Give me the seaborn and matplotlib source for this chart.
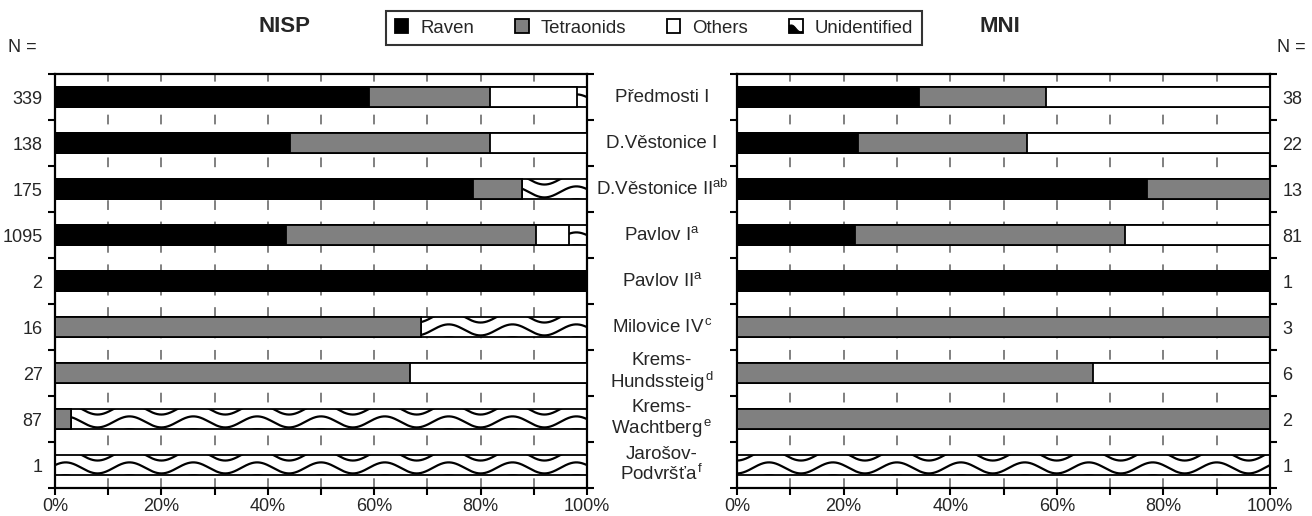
import numpy as np
import matplotlib
matplotlib.use("Agg")
import matplotlib.pyplot as plt
import matplotlib.transforms as mtransforms
from matplotlib.patches import Patch, Rectangle, Polygon
from matplotlib.legend_handler import HandlerBase
import seaborn as sns

# ---------------- data ----------------
sites = ["Předmosti I", "D.Věstonice I", "D.Věstonice II", "Pavlov I", "Pavlov II",
         "Milovice IV", "Krems-Hundssteig", "Krems-Wachtberg", "Jarošov-Podvršťa"]
site_labels = ["Předmosti I", "D.Věstonice I", "D.Věstonice II$^{\\mathrm{ab}}$",
               "Pavlov I$^{\\mathrm{a}}$", "Pavlov II$^{\\mathrm{a}}$",
               "Milovice IV$^{\\,\\mathrm{c}}$", "Krems-\nHundssteig$^{\\,\\mathrm{d}}$",
               "Krems-\nWachtberg$^{\\,\\mathrm{e}}$", "Jarošov-\nPodvršťa$^{\\,\\mathrm{f}}$"]

nisp_n = ["339", "138", "175", "1095", "2", "16", "27", "87", "1"]
nisp_raven = [59.0, 44.2, 78.6, 43.5, 100.0, 0.0, 0.0, 0.0, 0.0]
nisp_tetra = [22.8, 37.6, 9.1, 46.9, 0.0, 68.8, 66.7, 3.1, 0.0]
nisp_others = [16.4, 18.2, 0.0, 6.3, 0.0, 0.0, 33.3, 0.0, 0.0]
nisp_unid = [1.8, 0.0, 12.3, 3.3, 0.0, 31.2, 0.0, 96.9, 100.0]

mni_n = ["38", "22", "13", "81", "1", "3", "6", "2", "1"]
mni_raven = [34.2, 22.7, 76.9, 22.2, 100.0, 0.0, 0.0, 0.0, 0.0]
mni_tetra = [23.7, 31.8, 23.1, 50.6, 0.0, 100.0, 66.7, 100.0, 0.0]
mni_others = [42.1, 45.5, 0.0, 27.2, 0.0, 0.0, 33.3, 0.0, 0.0]
mni_unid = [0.0, 0.0, 0.0, 0.0, 0.0, 0.0, 0.0, 0.0, 100.0]

series_names = ["Raven", "Tetraonids", "Others", "Unidentified"]
series_colors = ["#000000", "#808080", "#ffffff", "#ffffff"]
x_ticks = [0, 20, 40, 60, 80, 100]
x_tick_labels = ["0%", "20%", "40%", "60%", "80%", "100%"]

# ---------------- style ----------------
sns.set_theme(style="white")
plt.rcParams["font.family"] = ["Liberation Sans", "DejaVu Sans"]
plt.rcParams["mathtext.fontset"] = "custom"
plt.rcParams["mathtext.rm"] = "Liberation Sans"
plt.rcParams["mathtext.it"] = "Liberation Sans:italic"
plt.rcParams["mathtext.bf"] = "Liberation Sans:bold"

FS = 13
BAR_W = 0.42
EDGE_LW = 1.3

fig = plt.figure(figsize=(13.12, 5.16), dpi=100)
axL = fig.add_axes([55 / 1312, 28 / 516, 532 / 1312, 414 / 516])
axR = fig.add_axes([737 / 1312, 28 / 516, 533 / 1312, 414 / 516])


def draw_waves(ax, patch, yc, phase):
    period = 12.0
    amp = 0.12
    xs = np.linspace(0, 100, 1500)
    for off in (-0.28 * 2, -0.28, 0.0, 0.28):
        c = yc + 0.063 + off
        ys = c + amp * np.sin(2 * np.pi * (xs - phase) / period + np.pi / 2)
        ln, = ax.plot(xs, ys, color="black", lw=1.6, zorder=2.5)
        ln.set_clip_path(patch)


def panel(ax, raven, tetra, others, unid, nlabels, right, phase):
    raven = np.array(raven)
    tetra = np.array(tetra)
    others = np.array(others)
    unid = np.array(unid)
    layers = [
        (raven + tetra + others + unid, series_colors[3], 2.0),
        (raven + tetra + others, series_colors[2], 3.0),
        (raven + tetra, series_colors[1], 3.1),
        (raven, series_colors[0], 3.2),
    ]
    for i, (vals, col, z) in enumerate(layers):
        n_before = len(ax.patches)
        sns.barplot(x=vals, y=sites, order=sites, orient="h", color=col, saturation=1,
                    edgecolor="black", linewidth=EDGE_LW, width=BAR_W, errorbar=None,
                    ax=ax, zorder=z)
        if i == 0:
            bars = ax.patches[n_before:]
            for k, b in enumerate(bars):
                if unid[k] > 0:
                    draw_waves(ax, b, k, phase)
    ax.set_xlim(0, 100)
    ax.set_ylim(len(sites) - 0.5, -0.5)
    ax.set_xlabel("")
    ax.set_ylabel("")
    ax.set_xticks(x_ticks)
    ax.set_xticklabels(x_tick_labels, fontsize=FS)
    ax.set_xticks(np.arange(10, 100, 20), minor=True)
    ax.grid(axis="x", which="both", color="#808080", linestyle=(0, (5, 6)), lw=1.4)
    ax.grid(axis="y", visible=False)
    ax.set_axisbelow(True)
    ax.tick_params(axis="x", which="both", bottom=True, direction="out", length=5,
                   width=1.5, color="black", pad=2)
    ax.set_yticks(np.arange(len(sites)))
    ax.set_yticklabels(nlabels, fontsize=FS)
    ax.set_yticks(np.arange(len(sites) + 1) - 0.5, minor=True)
    ax.tick_params(axis="y", which="minor", left=True, right=True, direction="out",
                   length=5, width=1.5, color="black")
    if right:
        ax.tick_params(axis="y", which="major", left=False, right=False, length=0,
                       labelleft=False, labelright=True, pad=9)
    else:
        ax.tick_params(axis="y", which="major", left=False, right=False, length=0,
                       labelleft=True, labelright=False, pad=9)
    for s in ax.spines.values():
        s.set_visible(True)
        s.set_color("black")
        s.set_linewidth(1.6)


panel(axL, nisp_raven, nisp_tetra, nisp_others, nisp_unid, nisp_n, False, 8.0)
panel(axR, mni_raven, mni_tetra, mni_others, mni_unid, mni_n, True, 0.0)

# centre labels
trans = mtransforms.blended_transform_factory(fig.transFigure, axL.transData)
for k, lab in enumerate(site_labels):
    fig.text(662 / 1312, k, lab, transform=trans, ha="center", va="center",
             fontsize=13.5, linespacing=1.05)

# titles and N =
fig.text(285 / 1312, 1 - 27 / 516, "NISP", ha="center", va="center", fontsize=16,
         fontweight="bold")
fig.text(1000 / 1312, 1 - 27 / 516, "MNI", ha="center", va="center", fontsize=16,
         fontweight="bold")
fig.text(8 / 1312, 1 - 48 / 516, "N =", ha="left", va="center", fontsize=FS)
fig.text(1306 / 1312, 1 - 48 / 516, "N =", ha="right", va="center", fontsize=FS)


# legend
class WaveHandler(HandlerBase):
    def create_artists(self, legend, orig_handle, xdescent, ydescent, width, height,
                       fontsize, trans):
        x0, y0 = -xdescent, -ydescent
        t = np.linspace(0, 1, 30)
        cx = x0 + width * t
        cy = y0 + height * (0.55 - 0.45 * t + 0.12 * np.sin(2 * np.pi * t))
        pts = [(x0, y0)] + list(zip(cx, cy)) + [(x0 + width, y0)]
        poly = Polygon(pts, closed=True, facecolor="black", edgecolor="black", lw=0.8,
                       transform=trans)
        rect = Rectangle((x0, y0), width, height, facecolor="none", edgecolor="black",
                         lw=1.3, transform=trans)
        return [poly, rect]


handles = [Patch(facecolor=series_colors[i], edgecolor="black", lw=1.3) for i in range(3)]
handles.append(Patch(facecolor="white", edgecolor="black", label="Unidentified"))
leg = fig.legend(handles, series_names, loc="center", bbox_to_anchor=(654 / 1312, 1 - 28 / 516),
                 ncol=4, fontsize=13.4, frameon=True, fancybox=False, handlelength=0.72,
                 handleheight=0.72, handletextpad=0.65, columnspacing=2.2,
                 borderpad=0.45, borderaxespad=0.0, handler_map={handles[3]: WaveHandler()})
leg.get_frame().set_edgecolor("black")
leg.get_frame().set_linewidth(1.5)

fig.savefig("out.png", dpi=100)
